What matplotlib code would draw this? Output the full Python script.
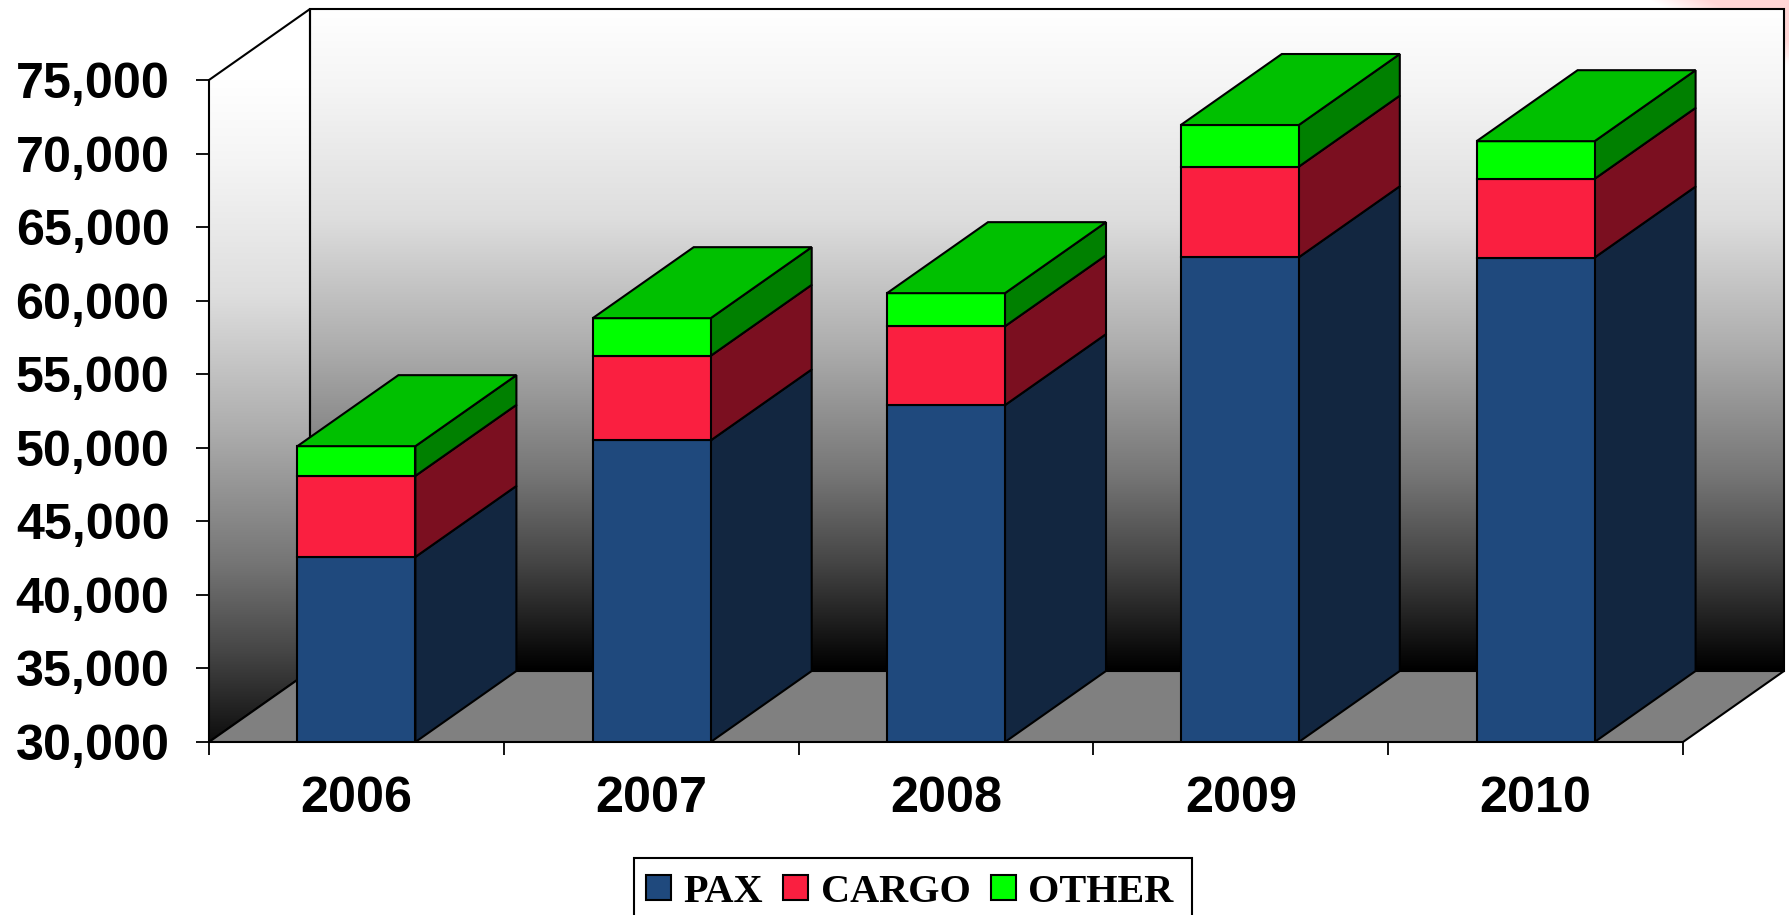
import numpy as np
import matplotlib
matplotlib.use("Agg")
import matplotlib.pyplot as plt
from matplotlib.patches import Polygon, Patch, Rectangle
from matplotlib.colors import LinearSegmentedColormap

# ---- data ----
years = ["2006", "2007", "2008", "2009", "2010"]
pax = [42580, 50500, 52900, 62950, 62930]
cargo = [5510, 5750, 5360, 6160, 5350]
other = [2020, 2560, 2250, 2830, 2560]
series_names = ["PAX", "CARGO", "OTHER"]
y_ticks = [30000, 35000, 40000, 45000, 50000, 55000, 60000, 65000, 70000, 75000]

# ---- style ----
W, H, DPI = 1790, 915, 100
front_colors = ["#1F497D", "#FA1F40", "#00FF00"]
side_colors = ["#122640", "#7B0F20", "#008000"]
top_color = "#00C000"
floor_color = "#808080"
bar_nudge_px = [0, 0.5, 0, -1, 0]
LW = 1.5
SANS = "Liberation Sans"
SERIF = "Liberation Serif"

fig = plt.figure(figsize=(W / DPI, H / DPI), dpi=DPI, facecolor="white")

# faint pink decoration behind the chart, top right corner
bg = fig.add_axes([0, 0, 1, 1], zorder=0)
bg.axis("off")
px, py = np.meshgrid(np.arange(W), np.arange(H))
t = np.clip((px - 1650 - 2 * py) / 60, 0, 1) * np.clip((68 - py) / 12, 0, 1)
rgb = np.ones((H, W, 3))
rgb[..., 1] = 1 - t * (1 - 214 / 255)
rgb[..., 2] = 1 - t * (1 - 214 / 255)
bg.imshow(rgb, aspect="auto", interpolation="nearest")

# axes: front plane pixel frame
L, R, T, B = 209, 1784, 9, 742
CAT_PX = (1683 - 209) / 5
VAL_PX = (742 - 80) / 45000
ax = fig.add_axes([L / W, 1 - B / H, (R - L) / W, (B - T) / H], zorder=1)
ax.patch.set_alpha(0)
DX = 101 / CAT_PX
DY = 71 / VAL_PX
x0, x1 = -0.5, 4.5
y0 = y_ticks[0]
ymax = y_ticks[-1]
ytop = y0 + (B - T) / VAL_PX

grad = np.linspace(1, 0, 256).reshape(-1, 1)
cmap = LinearSegmentedColormap.from_list(
    "w", [(0.0, (0, 0, 0)), (0.032, (.05, .05, .05)), (0.162, (.27, .27, .27)),
          (0.294, (.46, .46, .46)), (0.49, (.68, .68, .68)), (0.686, (.87, .87, .87)),
          (0.882, (.96, .96, .96)), (1.0, (1, 1, 1))])

# back wall
ax.imshow(grad, extent=[x0 + DX, x1 + DX, y0 + DY, ytop], cmap=cmap, vmin=0, vmax=1,
          aspect="auto", zorder=1, interpolation="bilinear")
ax.add_patch(Rectangle((x0 + DX, y0 + DY), x1 - x0, ytop - y0 - DY, fill=False,
                       ec="black", lw=LW, zorder=2, clip_on=False))

# left wall
wall_pts = [(x0, y0), (x0, ymax), (x0 + DX, ytop), (x0 + DX, y0 + DY)]
im = ax.imshow(grad, extent=[x0, x0 + DX, y0 - 23 / VAL_PX, ymax], cmap=cmap, vmin=0, vmax=1,
               aspect="auto", zorder=1, interpolation="bilinear")
wall = Polygon(wall_pts, closed=True, fill=False, ec="black", lw=LW, zorder=2, clip_on=False)
ax.add_patch(wall)
im.set_clip_path(Polygon(wall_pts, closed=True, transform=ax.transData))

# floor
ax.add_patch(Polygon([(x0, y0), (x1, y0), (x1 + DX, y0 + DY), (x0 + DX, y0 + DY)], closed=True,
                     fc=floor_color, ec="black", lw=LW, zorder=3, clip_on=False))

# stacked 3-D bars
BW = 118 / CAT_PX
for i in range(len(years)):
    bottom = y0
    c = i + bar_nudge_px[i] / CAT_PX
    xl, xr = c - BW / 2, c + BW / 2
    for j, vals in enumerate([pax, cargo, other]):
        low = bottom if j else y0
        top = (pax[i] if j == 0 else bottom + vals[i])
        ax.add_patch(Polygon([(xr, low), (xr + DX, low + DY), (xr + DX, top + DY), (xr, top)],
                             closed=True, fc=side_colors[j], ec="black", lw=LW, zorder=4,
                             joinstyle="miter"))
        ax.add_patch(Rectangle((xl, low), xr - xl, top - low, fc=front_colors[j], ec="black",
                               lw=LW, zorder=5))
        bottom = top
    ax.add_patch(Polygon([(xl, bottom), (xr, bottom), (xr + DX, bottom + DY), (xl + DX, bottom + DY)],
                         closed=True, fc=top_color, ec="black", lw=LW, zorder=5))

ax.set_xlim(x0, x1 + DX)
ax.set_ylim(y0, ytop)
for s in ax.spines.values():
    s.set_visible(False)

ax.set_yticks(y_ticks)
ax.set_yticklabels([f"{v:,}" for v in y_ticks], fontfamily=SANS, fontweight="bold", fontsize=36.2)
ax.tick_params(axis="y", length=9.4, width=1.3, pad=19, color="black")

ax.set_xticks(np.arange(x0, x1 + 0.5))
ax.set_xticklabels([])
ax.tick_params(axis="x", which="major", length=9, width=1.3, color="black")
ax.set_xticks(np.arange(len(years)), minor=True)
ax.set_xticklabels(years, minor=True, fontfamily=SANS, fontweight="bold", fontsize=36.2)
ax.tick_params(axis="x", which="minor", length=0, pad=24.7)

# legend
fig.add_artist(Rectangle((634 / W, 1 - 935 / H), (1192 - 634) / W, (935 - 858) / H,
                         transform=fig.transFigure, fc="white", ec="black", lw=LW, zorder=5))
handles = [Patch(fc=c, ec="black", lw=LW) for c in front_colors]
leg = fig.legend(handles, series_names, ncol=3, loc="upper left",
                 bbox_to_anchor=(646 / W, 1 - 874 / H), bbox_transform=fig.transFigure,
                 frameon=False, borderpad=0, borderaxespad=0,
                 handlelength=0.62, handleheight=0.58, handletextpad=0.31, columnspacing=0.5,
                 prop={"family": SERIF, "weight": "bold", "size": 29})
leg.set_zorder(6)

fig.savefig("out.png", dpi=DPI, facecolor="white")
